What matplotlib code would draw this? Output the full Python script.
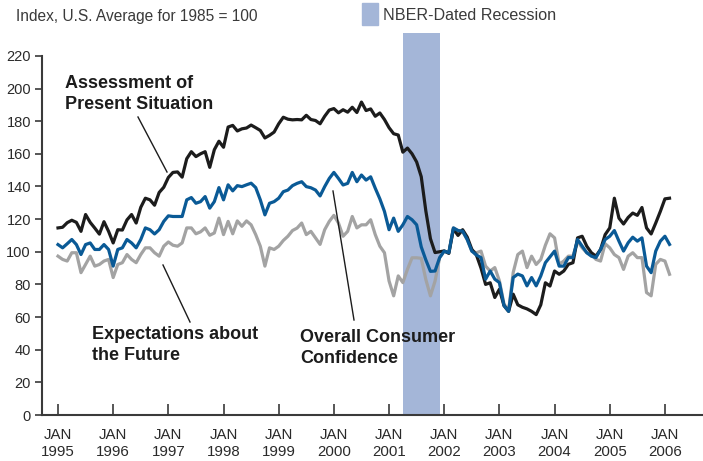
'''
Consumer confidence indexes 1995-2006 with the 2001 NBER recession shaded
'''
import numpy as np
import matplotlib
matplotlib.use('Agg')
import matplotlib.pyplot as plt
from matplotlib.patches import Rectangle

# monthly values, Jan 1995 .. Feb 2006 (index, 1985 = 100)
present = [114.6, 115, 117.8, 119.3, 118, 112.5, 122.8, 118, 114.5, 110.8, 118.4, 112.5,
           105.4, 113.5, 113.3, 119.5, 122.8, 117.6, 127.2, 132.8, 131.8, 128.5, 136.3, 139.5,
           145.5, 148.6, 148.9, 145.7, 157, 161.3, 158.3, 160, 161.3, 151.7, 162.5, 167.7,
           164, 176.4, 177.4, 174, 175.3, 175.8, 177.6, 176, 174.3, 169.7, 171.3, 173.3,
           178.4, 182.4, 181.2, 180.8, 181, 180.8, 183.6, 181, 180.4, 178.4, 183, 186.8,
           187.7, 185.1, 187, 185.5, 188.5, 185.3, 191.7, 186.5, 187.5, 183, 185, 181,
           176, 172.3, 171.5, 161, 163.5, 160, 155, 146, 125, 108, 99.5, 100,
           100.5, 99, 114, 110, 113.5, 109, 101.5, 98, 90, 80, 81, 72,
           77, 67, 63.5, 74, 67.5, 66, 65, 63.5, 61.5, 67.5, 81, 79,
           88.2, 86.2, 88.2, 92.3, 93.3, 108.5, 109.5, 103.4, 99.4, 97.3, 101.4, 110.5,
           114.6, 132.8, 120.6, 117, 121, 123.7, 122.3, 127.1, 114.6, 110.9, 117.6, 124.7,
           132.4, 132.8]

overall = [104.4, 102.4, 104.9, 107.5, 104.4, 98.3, 104.4, 105.4, 101.4, 101.4, 104.4, 101.4,
           91.2, 101.4, 102.4, 107.5, 105.4, 102.4, 107.5, 114.6, 113.5, 110.9, 113.5, 118.6,
           122, 121.6, 121.6, 121.6, 131.8, 133.2, 129.7, 130.7, 133.8, 126.7, 130.7, 139.3,
           131.8, 141, 137.3, 140.5, 139.9, 141, 142, 139.3, 131.8, 122.6, 129.7, 130.7,
           132.8, 136.8, 137.8, 140.5, 141.9, 142.9, 139.9, 139.2, 137.8, 134.2, 139.9, 144.9,
           148.6, 144.9, 140.9, 141.9, 148.6, 142.9, 147, 143.9, 145.9, 138.9, 132.4, 124.7,
           113.5, 120.6, 112.5, 116.5, 121.6, 119.6, 116.5, 103, 95, 88, 88.2, 96.4,
           100.4, 99.4, 114.6, 113, 112.6, 107.5, 100.4, 98, 96.4, 83.2, 88.2, 83.2,
           81.1, 67, 63.5, 84.2, 86.3, 85.2, 79.1, 84.2, 79.1, 85.2, 93.3, 96.8,
           100.4, 91.2, 91.2, 96.4, 96.4, 107.5, 103.4, 99.4, 97.3, 96.4, 101.4, 107.5,
           109.5, 113, 106.5, 100.4, 105.5, 108.9, 106.5, 108.5, 91.2, 87.2, 100.4, 106.5,
           109.5, 104.5]

expect = [97.3, 95.3, 94.3, 99.4, 99.4, 87.2, 92.2, 97.3, 91.2, 92.2, 94.3, 95.3,
          84.2, 92.2, 93.3, 98.3, 95.3, 93.3, 98.3, 102.4, 102.4, 99.4, 97.3, 103.4,
          106, 104, 103.4, 105.4, 114.6, 114.6, 111, 112.2, 114.6, 110.1, 111.5, 120.6,
          110.5, 118.6, 111, 118.9, 115.6, 118.9, 116.5, 110.5, 103.4, 91.2, 102.4, 101.4,
          103.4, 106.9, 109.5, 113, 114.5, 117.6, 110.5, 112.5, 108.5, 104.5, 113.5, 118.6,
          122.3, 117.6, 109.5, 112.5, 121.6, 114.6, 116.5, 116.5, 119.6, 110.5, 103.4, 99.4,
          82.1, 73, 85.2, 81.1, 89.2, 96.3, 96.3, 96, 83, 73, 82, 96.4,
          100.4, 99.4, 114.6, 113, 112.6, 107.5, 100.4, 99.4, 100.4, 91.2, 88.2, 90.3,
          82.2, 68, 63.9, 87.3, 98.3, 100.4, 90.3, 97.3, 92.2, 95.3, 104, 111,
          108.5, 92.3, 94.3, 97.3, 97.3, 106.5, 102.4, 99.4, 98.3, 95.3, 94.3, 104.9,
          102.4, 98.3, 96.4, 89.2, 97.3, 99.4, 96.4, 96.4, 75, 73, 92.3, 95.3,
          94.3, 86.2]

years = list(range(1995, 2007))
recession = (2001.26, 2001.92)

plt.rcParams['font.family'] = ['Liberation Sans', 'DejaVu Sans']

x = 1995 + np.arange(len(present)) / 12.0

fig = plt.figure(figsize=(7.03, 4.61), dpi=100)
ax = fig.add_axes([42/703, 46/461, 661/703, 382/461])

ax.axvspan(recession[0], recession[1], color='#a4b6d8', lw=0, zorder=0)
ax.plot(x, expect, color='#a3a3a3', lw=2.3, zorder=2)
ax.plot(x, present, color='#1c1c1c', lw=2.3, zorder=3)
ax.plot(x, overall, color='#0a5a96', lw=2.3, zorder=4)

ax.set_xlim(1994.71, 2006.69)
ax.set_ylim(0, 234)
ax.spines['top'].set_visible(False)
ax.spines['right'].set_visible(False)
ax.spines['left'].set_bounds(0, 220)
for s in ['left', 'bottom']:
    ax.spines[s].set_color('#3a3a3a')
    ax.spines[s].set_linewidth(1.5)

ax.set_yticks(range(0, 221, 20))
ax.tick_params(axis='y', direction='out', length=5, width=1.2, color='#3a3a3a',
               labelsize=10.5, labelcolor='#2a2a2a', pad=3)
ax.set_xticks(years)
ax.set_xticklabels(['JAN\n%d' % yr for yr in years], linespacing=1.3)
ax.tick_params(axis='x', direction='in', length=8, width=1.2, color='#3a3a3a',
               labelsize=10.8, labelcolor='#2a2a2a', pad=9)

# series labels with pointer lines (figure pixel coords)
def fx(px):
    return px / 703

def fy(py):
    return 1 - py / 461

fig.text(fx(65), fy(94), 'Assessment of\nPresent Situation', fontsize=13,
         fontweight='bold', color='#1c1c1c', va='center', ha='left', linespacing=1.35)
fig.text(fx(92), fy(345), 'Expectations about\nthe Future', fontsize=13,
         fontweight='bold', color='#1c1c1c', va='center', ha='left', linespacing=1.35)
fig.text(fx(300), fy(348), 'Overall Consumer\nConfidence', fontsize=13,
         fontweight='bold', color='#1c1c1c', va='center', ha='left', linespacing=1.35)
for (x0, y0, x1, y1) in [(138, 117, 167, 172), (163, 265, 190, 322), (333, 191, 354, 320)]:
    fig.add_artist(plt.Line2D([fx(x0), fx(x1)], [fy(y0), fy(y1)], color='#1c1c1c', lw=1))

fig.text(fx(16), fy(16), 'Index, U.S. Average for 1985 = 100', fontsize=11.2,
         color='#3a3a3a', va='center', ha='left')
fig.add_artist(Rectangle((fx(362), fy(25)), 16/703, 22/461, color='#a4b6d8',
                         transform=fig.transFigure))
fig.text(fx(383), fy(15), 'NBER-Dated Recession', fontsize=11.6,
         color='#3a3a3a', va='center', ha='left')

plt.savefig('out.png', dpi=100)
